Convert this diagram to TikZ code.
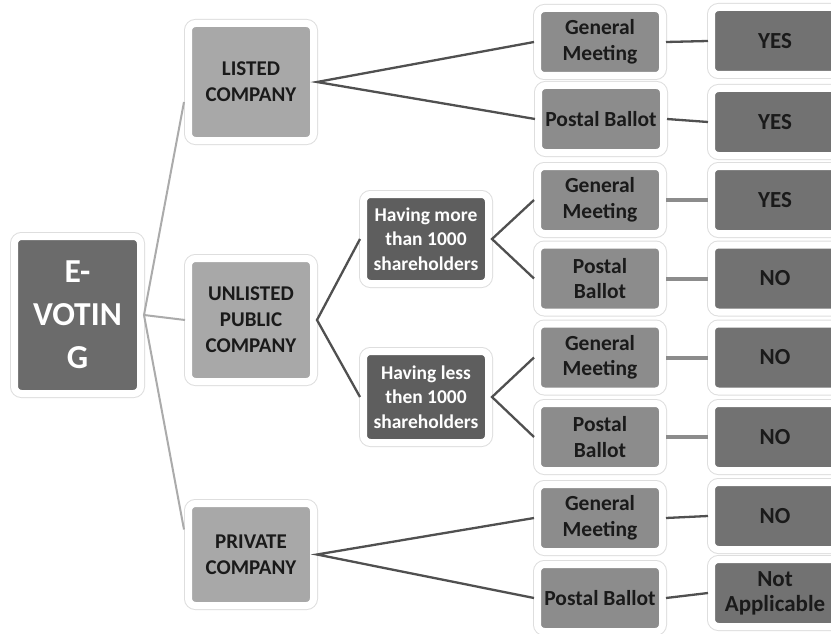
\documentclass[tikz,border=0pt]{standalone}
\usepackage{fontspec}
\setmainfont{Carlito}
\usetikzlibrary{calc}
\definecolor{cEvote}{HTML}{6B6B6B}
\definecolor{cCo}{HTML}{A8A8A8}
\definecolor{cHav}{HTML}{5E5E5E}
\definecolor{cMid}{HTML}{8C8C8C}
\definecolor{cRes}{HTML}{727272}
\definecolor{cTxt}{HTML}{1A1A1A}
\definecolor{cLight}{HTML}{ABABAB}
\definecolor{cDark}{HTML}{505050}
\definecolor{cMidLine}{HTML}{8C8C8C}
\tikzset{
  box/.style={rectangle, rounded corners=7pt, draw=white, line width=7pt,
    inner sep=0pt, align=center, text=cTxt,
    preaction={draw=black!13, line width=9pt}},
  evotebox/.style={box, fill=cEvote, text=white, minimum width=126pt, minimum height=157pt,
    font=\bfseries\fontsize{33.5}{43}\selectfont},
  cobox/.style={box, fill=cCo, minimum width=125pt, font=\bfseries\fontsize{21}{26}\selectfont},
  havbox/.style={box, fill=cHav, text=white, minimum width=125pt, font=\bfseries\fontsize{19.5}{24.5}\selectfont},
  midbox/.style={box, fill=cMid, minimum width=125pt, minimum height=67pt, font=\bfseries\fontsize{21.5}{25.5}\selectfont},
  resbox/.style={box, fill=cRes, minimum width=127pt, minimum height=67pt, font=\bfseries\fontsize{23}{25}\selectfont},
  lightline/.style={draw=cLight, line width=2pt},
  darkline/.style={draw=cDark, line width=2.3pt},
  thickline/.style={draw=cMidLine, line width=4pt},
}
\begin{document}
\begin{tikzpicture}[x=1pt,y=-1pt]
\useasboundingbox (0,0) rectangle (831,634);
\clip (0,0) rectangle (831,634);
\fill[white] (0,0) rectangle (831,634);

% nodes
\node[evotebox] (evote) at (77.5,315) {E-\\VOTIN\\G};
\node[cobox, minimum height=117pt] (listed) at (251,82) {LISTED\\COMPANY};
\node[cobox, minimum height=123pt] (unlisted) at (251,320) {UNLISTED\\PUBLIC\\COMPANY};
\node[cobox, minimum height=102pt] (private) at (251,554.5) {PRIVATE\\COMPANY};

\node[havbox, minimum height=89pt] (more) at (426,239) {Having more\\than 1000\\shareholders};
\node[havbox, minimum height=91pt] (less) at (426,397) {Having less\\then 1000\\shareholders};

\node[midbox] (gm1) at (600,42) {General\\Meeting};
\node[midbox] (pb1) at (601,119) {Postal Ballot};
\node[midbox] (gm2) at (600,200) {General\\Meeting};
\node[midbox] (pb2) at (600,278.5) {Postal\\Ballot};
\node[midbox] (gm3) at (600,357.5) {General\\Meeting};
\node[midbox] (pb3) at (600,437) {Postal\\Ballot};
\node[midbox] (gm4) at (600,518) {General\\Meeting};
\node[midbox] (pb4) at (600,598) {Postal Ballot};

\node[resbox] (r1) at (775,41) {YES};
\node[resbox] (r2) at (775,122) {YES};
\node[resbox] (r3) at (775,200) {YES};
\node[resbox] (r4) at (775,278.5) {NO};
\node[resbox] (r5) at (775,357.5) {NO};
\node[resbox] (r6) at (775,437) {NO};
\node[resbox] (r7) at (775,516) {NO};
\node[resbox] (r8) at (775,593) {Not\\Applicable};

% connectors
\draw[lightline] ($(listed.west)+(-1,20)$) -- (evote.east) -- ($(private.west)+(-1,-25)$);
\draw[lightline] (evote.east) -- (unlisted.west);

\draw[darkline] (gm1.west) -- (listed.east) -- (pb1.west);
\draw[darkline] (more.west) -- (unlisted.east) -- (less.west);
\draw[darkline] (gm2.west) -- (more.east) -- (pb2.west);
\draw[darkline] (gm3.west) -- (less.east) -- (pb3.west);
\draw[darkline] (gm4.west) -- (private.east) -- (pb4.west);

\draw[darkline] (gm1.east) -- (r1.west);
\draw[darkline] (pb1.east) -- (r2.west);
\draw[thickline] (gm2.east) -- (r3.west);
\draw[thickline] (pb2.east) -- (r4.west);
\draw[thickline] (gm3.east) -- (r5.west);
\draw[thickline] (pb3.east) -- (r6.west);
\draw[darkline] (gm4.east) -- (r7.west);
\draw[darkline] (pb4.east) -- (r8.west);
\end{tikzpicture}
\end{document}
